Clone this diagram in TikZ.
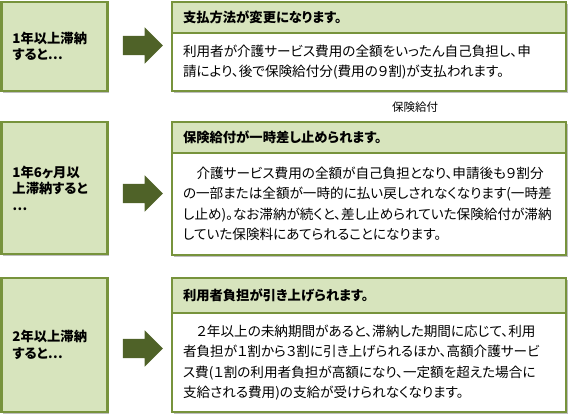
\documentclass[tikz,border=0pt]{standalone}
\usepackage{fontspec}
\setmainfont{Noto Sans CJK JP}[RawFeature=+palt]
\usepackage{tikz}
\usetikzlibrary{shapes,shapes.arrows,shadows,positioning}

\definecolor{Frame}{RGB}{119,147,60}
\definecolor{PaleGreen}{RGB}{215,228,189}
\definecolor{DarkGreen}{RGB}{79,98,40}
\definecolor{Shade}{RGB}{190,190,190}

\begin{document}
\begin{tikzpicture}[x=1pt, y=-1pt]
			\tikzstyle{Shadowed}	= [drop shadow={shadow xshift=1.5pt, shadow yshift=-1.5pt, fill=Shade, opacity=1}]
			\tikzstyle{Cond} 	= [rectangle, draw=Frame, line width=2.5pt, fill=PaleGreen, outer sep=0pt, inner xsep=11pt, minimum width=106pt, text width=84pt, align=left, font=\fontsize{13.3}{16.5}\selectfont\bfseries, Shadowed]
			\tikzstyle{Head}	= [rectangle, draw=Frame, line width=2.5pt, fill=PaleGreen, outer sep=0pt, inner xsep=11pt, minimum width=394pt, text width=372pt, align=left, anchor=north west, font=\fontsize{13.3}{16}\selectfont\bfseries, Shadowed]
			\tikzstyle{Body}	= [rectangle, draw=Frame, line width=2.5pt, fill=white, outer sep=0pt, inner xsep=11pt, minimum width=394pt, text width=372pt, align=left, font=\fontsize{13.6}{20.5}\selectfont, Shadowed]
			\tikzstyle{Go}		= [single arrow, fill=DarkGreen, minimum height=40pt, minimum width=36pt, single arrow head extend=8.5pt, inner xsep=0pt, inner ysep=9.5pt]
			
			\useasboundingbox (0,0) rectangle (568,416);
			
			% first step
			\node (L1) at (54.5, 46.5) [Cond, minimum height=89pt] {1年以上滞納\\すると…};
			\node (A1) at (138, 45.5) [Go] {};
			\node (H1) at (172, 2) [Head, minimum height=31pt] {支払方法が変更になります。};
			\node (B1) [Body, below=0pt of H1, minimum height=58pt] {利用者が介護サービス費用の全額をいったん自己負担し、申\\請により、後で保険給付分(費用の９割)が支払われます。};
			
			\node (note) at (415, 107) [font=\fontsize{11.5}{12}\selectfont] {保険給付};
			
			% second step
			\node (L2) at (54.5, 188) [Cond, minimum height=132pt] {1年6ヶ月以\\上滞納すると\\…};
			\node (A2) at (138, 193.5) [Go] {};
			\node (H2) at (172, 122) [Head, minimum height=31pt] {保険給付が一時差し止められます。};
			\node (B2) [Body, below=0pt of H2, minimum height=102pt] {　介護サービス費用の全額が自己負担となり、申請後も９割分\\の一部または全額が一時的に払い戻しされなくなります(一時差\\し止め)。なお滞納が続くと、差し止められていた保険給付が滞納\\していた保険料にあてられることになります。};
			
			% third step
			\node (L3) at (54.5, 345) [Cond, minimum height=134pt] {2年以上滞納\\すると…};
			\node (A3) at (138, 348.5) [Go] {};
			\node (H3) at (172, 278) [Head, minimum height=35pt] {利用者負担が引き上げられます。};
			\node (B3) [Body, below=0pt of H3, minimum height=99pt] {　２年以上の未納期間があると、滞納した期間に応じて、利用\\者負担が１割から３割に引き上げられるほか、高額介護サービ\\ス費(１割の利用者負担が高額になり、一定額を超えた場合に\\支給される費用)の支給が受けられなくなります。};
		\end{tikzpicture}
\end{document}
